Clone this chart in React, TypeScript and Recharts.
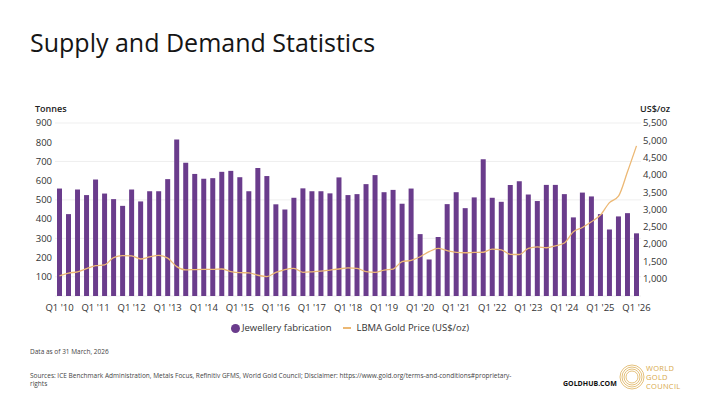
import React from "react";
import { ComposedChart, Bar, Line, XAxis, YAxis, CartesianGrid } from "recharts";

const quarters = [
  "Q1 '10", "Q2 '10", "Q3 '10", "Q4 '10",
  "Q1 '11", "Q2 '11", "Q3 '11", "Q4 '11",
  "Q1 '12", "Q2 '12", "Q3 '12", "Q4 '12",
  "Q1 '13", "Q2 '13", "Q3 '13", "Q4 '13",
  "Q1 '14", "Q2 '14", "Q3 '14", "Q4 '14",
  "Q1 '15", "Q2 '15", "Q3 '15", "Q4 '15",
  "Q1 '16", "Q2 '16", "Q3 '16", "Q4 '16",
  "Q1 '17", "Q2 '17", "Q3 '17", "Q4 '17",
  "Q1 '18", "Q2 '18", "Q3 '18", "Q4 '18",
  "Q1 '19", "Q2 '19", "Q3 '19", "Q4 '19",
  "Q1 '20", "Q2 '20", "Q3 '20", "Q4 '20",
  "Q1 '21", "Q2 '21", "Q3 '21", "Q4 '21",
  "Q1 '22", "Q2 '22", "Q3 '22", "Q4 '22",
  "Q1 '23", "Q2 '23", "Q3 '23", "Q4 '23",
  "Q1 '24", "Q2 '24", "Q3 '24", "Q4 '24",
  "Q1 '25", "Q2 '25", "Q3 '25", "Q4 '25",
  "Q1 '26",
];

const jewellery = [
  559, 426, 554, 525,
  606, 533, 504, 469,
  554, 492, 545, 545,
  608, 814, 693, 635,
  610, 613, 646, 651,
  618, 545, 666, 624,
  477, 450, 511, 560,
  545, 545, 534, 617,
  525, 530, 582, 629,
  540, 552, 480, 559,
  322, 190, 307, 478,
  540, 457, 513, 712,
  511, 490, 578, 597,
  528, 494, 578, 578,
  530, 409, 538, 518,
  426, 346, 414, 431,
  326,
];

const goldPrice = [
  1080, 1160, 1200, 1290,
  1375, 1400, 1610, 1665,
  1660, 1570, 1630, 1675,
  1595, 1350, 1255, 1265,
  1270, 1270, 1280, 1205,
  1175, 1170, 1100, 1060,
  1180, 1265, 1300, 1185,
  1200, 1220, 1250, 1280,
  1315, 1300, 1205, 1185,
  1250, 1280, 1490, 1530,
  1635, 1780, 1875, 1810,
  1760, 1750, 1760, 1765,
  1855, 1835, 1705, 1700,
  1875, 1920, 1895, 1950,
  2030, 2355, 2480, 2645,
  2840, 3200, 3385, 4090,
  4840,
];

const leftTicks = [100, 200, 300, 400, 500, 600, 700, 800, 900];
const rightTicks = [1000, 1500, 2000, 2500, 3000, 3500, 4000, 4500, 5000, 5500];

const data = quarters.map((q, i) => ({ q, jewellery: jewellery[i], gold: goldPrice[i] }));

const FONT = "'Open Sans', sans-serif";
const PURPLE = "#6A3C8C";
const GOLD_LINE = "#ECB874";

const fmt = (v: number) => v.toLocaleString("en-US");

const tickStyle = { fill: "#333", fontSize: 9.5, fontFamily: FONT };

export default function App() {
  return (
    <div
      style={{
        position: "absolute",
        left: 0,
        top: 0,
        width: 710,
        height: 400,
        background: "#fff",
        fontFamily: FONT,
        color: "#222",
        overflow: "hidden",
      }}
    >
      <div style={{ position: "absolute", left: 30, top: 30, fontSize: 25, lineHeight: 1, color: "#151515" }}>
        Supply and Demand Statistics
      </div>

      <div style={{ position: "absolute", left: 35, top: 103, fontSize: 9, fontWeight: 600, color: "#222", lineHeight: "11px" }}>
        Tonnes
      </div>
      <div style={{ position: "absolute", left: 640, top: 103, fontSize: 9, fontWeight: 600, color: "#222", lineHeight: "11px" }}>
        US$/oz
      </div>

      <div style={{ position: "absolute", left: 0, top: 0 }}>
        <ComposedChart
          width={710}
          height={330}
          data={data}
          margin={{ top: 123, right: 29, left: 25, bottom: 10 }}
          barCategoryGap={4}
        >
          <CartesianGrid vertical={false} stroke="#EFEFEF" yAxisId="left" />
          <XAxis
            dataKey="q"
            interval={3}
            tickLine={false}
            axisLine={false}
            tickSize={0}
            tickMargin={8}
            height={24}
            tick={tickStyle}
          />
          <YAxis
            yAxisId="left"
            orientation="left"
            domain={[0, 900]}
            ticks={leftTicks}
            width={30}
            tickLine={false}
            axisLine={false}
            tickSize={0}
            tickMargin={3}
            tick={tickStyle}
          />
          <YAxis
            yAxisId="right"
            orientation="right"
            domain={[500, 5500]}
            ticks={rightTicks}
            width={40}
            tickLine={false}
            axisLine={false}
            tickSize={0}
            tickMargin={2}
            tickFormatter={fmt}
            tick={{ ...tickStyle, textAnchor: "start" }}
          />
          <Bar yAxisId="left" dataKey="jewellery" fill={PURPLE} barSize={5} isAnimationActive={false} />
          <Line
            yAxisId="right"
            type="monotone"
            dataKey="gold"
            stroke={GOLD_LINE}
            strokeWidth={1.3}
            dot={false}
            isAnimationActive={false}
          />
        </ComposedChart>
      </div>

      <div
        style={{
          position: "absolute",
          left: 0,
          top: 321,
          width: 700,
          display: "flex",
          justifyContent: "center",
          alignItems: "center",
          fontSize: 9.5,
          color: "#333",
          lineHeight: "14px",
        }}
      >
        <span style={{ display: "inline-block", width: 9, height: 9, borderRadius: "50%", background: PURPLE, marginRight: 2 }} />
        <span>Jewellery fabrication</span>
        <span style={{ display: "inline-block", width: 8, height: 1.3, background: GOLD_LINE, marginLeft: 12, marginRight: 5 }} />
        <span>LBMA Gold Price (US$/oz)</span>
      </div>

      <div style={{ position: "absolute", left: 30, top: 347, fontSize: 6.5, color: "#444", lineHeight: "9px" }}>
        Data as of 31 March, 2026
      </div>
      <div style={{ position: "absolute", left: 30, top: 372, fontSize: 6.5, color: "#444", lineHeight: "8px", whiteSpace: "nowrap" }}>
        Sources: ICE Benchmark Administration, Metals Focus, Refinitiv GFMS, World Gold Council; Disclaimer: https://www.gold.org/terms-and-conditions#proprietary-
        <br />
        rights
      </div>

      <div style={{ position: "absolute", left: 563, top: 379, fontSize: 7, fontWeight: 700, color: "#111", lineHeight: "10px" }}>
        GOLDHUB.COM
      </div>
      <svg style={{ position: "absolute", left: 619, top: 364 }} width={26} height={26} viewBox="0 0 26 26">
        {[12, 10, 8, 6].map((r) => (
          <circle key={r} cx={13} cy={13} r={r} fill="none" stroke="#DDB059" strokeWidth={0.8} />
        ))}
      </svg>
      <div style={{ position: "absolute", left: 646, top: 364, fontSize: 7.5, color: "#D8A94C", lineHeight: "9px", letterSpacing: 0.3 }}>
        WORLD
        <br />
        GOLD
        <br />
        COUNCIL
      </div>
    </div>
  );
}
